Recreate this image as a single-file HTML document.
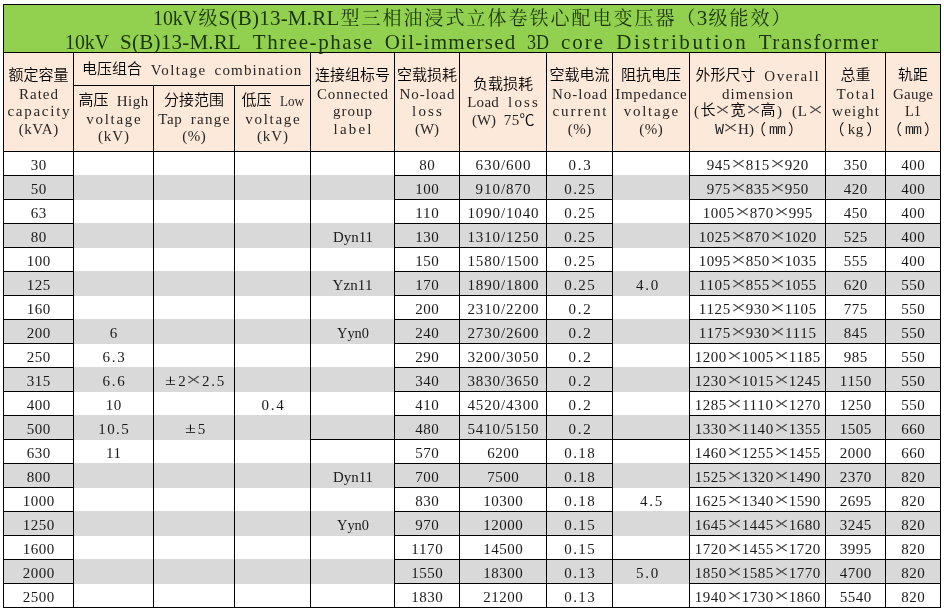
<!DOCTYPE html>
<html lang="zh-CN"><head><meta charset="utf-8"><title>10kV S(B)13-M.RL Three-phase Oil-immersed 3D core Distribution Transformer</title><style>
html,body{margin:0;padding:0;background:#fff}
#pg{position:relative;width:944px;height:612px;overflow:hidden;background:#fff;will-change:transform;
 font-family:"Liberation Serif","Noto Sans CJK SC",serif;color:#000}
.f,.b,.t{position:absolute}
.b{background:#000}
.t{display:flex;align-items:center;justify-content:center;text-align:center;white-space:nowrap}
.in{position:relative}
.td .in{top:2px}
.th .in{top:1px}
.tt .in{top:2px}
.ln{font-size:15px;height:17.5px;line-height:17.5px}
.c{font-family:"Liberation Sans","Noto Sans CJK SC",sans-serif;font-weight:350;line-height:0}
.w{display:inline-block;box-sizing:border-box;text-align:left}
.mo{font-family:"Liberation Mono",monospace;letter-spacing:-1px}
.tt .mo{letter-spacing:-1.6px}
.q{display:inline-block;transform-origin:0 50%}
.sp{display:inline-block;width:8px}
.x,.pm,.dc{display:inline-block;width:15px;line-height:0;text-align:center}
.x{font-size:23px;position:relative;top:1px;color:#444;transform:scale(1.2,.85)}
.pm{font-size:19px;transform:scale(1.05,.82)}
.dc{font-family:"Liberation Sans","Noto Sans CJK SC",sans-serif;font-weight:350}
.tt .ln{font-size:21px;height:23.5px;line-height:23.5px}
.tt .sp{width:11px}
.tt .c{font-family:"Liberation Serif","Noto Serif CJK SC",serif;font-weight:400;font-size:19px;letter-spacing:2px;position:relative;left:1px;top:0px}
.tt .ln:first-child{position:relative;left:.5px}
.tt{color:#1c3409}
.th .w{color:#262626}
.td .w{color:#1a1a1a}
.th .c{position:relative;top:-1px}
.th .fp{top:1px}
.th .fl{left:-3px}
.th .fr{left:3px}
</style></head><body><div id="pg">
<div class="f" style="left:3px;top:4px;width:938px;height:49px;background:#92d050"></div>
<div class="f" style="left:3px;top:52px;width:938px;height:100px;background:#fde9d9"></div>
<div class="f" style="left:3px;top:175px;width:938px;height:25px;background:#d9d9d9"></div>
<div class="f" style="left:3px;top:223px;width:938px;height:25px;background:#d9d9d9"></div>
<div class="f" style="left:3px;top:271px;width:938px;height:25px;background:#d9d9d9"></div>
<div class="f" style="left:3px;top:319px;width:938px;height:25px;background:#d9d9d9"></div>
<div class="f" style="left:3px;top:367px;width:938px;height:25px;background:#d9d9d9"></div>
<div class="f" style="left:3px;top:415px;width:938px;height:25px;background:#d9d9d9"></div>
<div class="f" style="left:3px;top:463px;width:938px;height:25px;background:#d9d9d9"></div>
<div class="f" style="left:3px;top:511px;width:938px;height:25px;background:#d9d9d9"></div>
<div class="f" style="left:3px;top:559px;width:938px;height:25px;background:#d9d9d9"></div>
<div class="b" style="left:3px;top:4px;width:938px;height:1px"></div>
<div class="b" style="left:3px;top:52px;width:938px;height:1px"></div>
<div class="b" style="left:3px;top:151px;width:938px;height:1px"></div>
<div class="b" style="left:3px;top:607px;width:938px;height:1px"></div>
<div class="b" style="left:3px;top:4px;width:1px;height:604px"></div>
<div class="b" style="left:940px;top:4px;width:1px;height:604px"></div>
<div class="b" style="left:73px;top:52px;width:1px;height:556px"></div>
<div class="b" style="left:153px;top:85px;width:1px;height:523px"></div>
<div class="b" style="left:234px;top:85px;width:1px;height:523px"></div>
<div class="b" style="left:310px;top:52px;width:1px;height:556px"></div>
<div class="b" style="left:394px;top:52px;width:1px;height:556px"></div>
<div class="b" style="left:459px;top:52px;width:1px;height:556px"></div>
<div class="b" style="left:546px;top:52px;width:1px;height:556px"></div>
<div class="b" style="left:612px;top:52px;width:1px;height:556px"></div>
<div class="b" style="left:689px;top:52px;width:1px;height:556px"></div>
<div class="b" style="left:825px;top:52px;width:1px;height:556px"></div>
<div class="b" style="left:885px;top:52px;width:1px;height:556px"></div>
<div class="b" style="left:73px;top:85px;width:238px;height:1px"></div>
<div class="b" style="left:3px;top:175px;width:71px;height:1px"></div>
<div class="b" style="left:394px;top:175px;width:66px;height:1px"></div>
<div class="b" style="left:459px;top:175px;width:88px;height:1px"></div>
<div class="b" style="left:546px;top:175px;width:67px;height:1px"></div>
<div class="b" style="left:689px;top:175px;width:137px;height:1px"></div>
<div class="b" style="left:825px;top:175px;width:61px;height:1px"></div>
<div class="b" style="left:885px;top:175px;width:56px;height:1px"></div>
<div class="b" style="left:3px;top:199px;width:71px;height:1px"></div>
<div class="b" style="left:394px;top:199px;width:66px;height:1px"></div>
<div class="b" style="left:459px;top:199px;width:88px;height:1px"></div>
<div class="b" style="left:546px;top:199px;width:67px;height:1px"></div>
<div class="b" style="left:689px;top:199px;width:137px;height:1px"></div>
<div class="b" style="left:825px;top:199px;width:61px;height:1px"></div>
<div class="b" style="left:885px;top:199px;width:56px;height:1px"></div>
<div class="b" style="left:3px;top:223px;width:71px;height:1px"></div>
<div class="b" style="left:394px;top:223px;width:66px;height:1px"></div>
<div class="b" style="left:459px;top:223px;width:88px;height:1px"></div>
<div class="b" style="left:546px;top:223px;width:67px;height:1px"></div>
<div class="b" style="left:689px;top:223px;width:137px;height:1px"></div>
<div class="b" style="left:825px;top:223px;width:61px;height:1px"></div>
<div class="b" style="left:885px;top:223px;width:56px;height:1px"></div>
<div class="b" style="left:3px;top:247px;width:71px;height:1px"></div>
<div class="b" style="left:394px;top:247px;width:66px;height:1px"></div>
<div class="b" style="left:459px;top:247px;width:88px;height:1px"></div>
<div class="b" style="left:546px;top:247px;width:67px;height:1px"></div>
<div class="b" style="left:689px;top:247px;width:137px;height:1px"></div>
<div class="b" style="left:825px;top:247px;width:61px;height:1px"></div>
<div class="b" style="left:885px;top:247px;width:56px;height:1px"></div>
<div class="b" style="left:3px;top:271px;width:71px;height:1px"></div>
<div class="b" style="left:394px;top:271px;width:66px;height:1px"></div>
<div class="b" style="left:459px;top:271px;width:88px;height:1px"></div>
<div class="b" style="left:546px;top:271px;width:67px;height:1px"></div>
<div class="b" style="left:689px;top:271px;width:137px;height:1px"></div>
<div class="b" style="left:825px;top:271px;width:61px;height:1px"></div>
<div class="b" style="left:885px;top:271px;width:56px;height:1px"></div>
<div class="b" style="left:3px;top:295px;width:71px;height:1px"></div>
<div class="b" style="left:394px;top:295px;width:66px;height:1px"></div>
<div class="b" style="left:459px;top:295px;width:88px;height:1px"></div>
<div class="b" style="left:546px;top:295px;width:67px;height:1px"></div>
<div class="b" style="left:689px;top:295px;width:137px;height:1px"></div>
<div class="b" style="left:825px;top:295px;width:61px;height:1px"></div>
<div class="b" style="left:885px;top:295px;width:56px;height:1px"></div>
<div class="b" style="left:3px;top:319px;width:71px;height:1px"></div>
<div class="b" style="left:394px;top:319px;width:66px;height:1px"></div>
<div class="b" style="left:459px;top:319px;width:88px;height:1px"></div>
<div class="b" style="left:546px;top:319px;width:67px;height:1px"></div>
<div class="b" style="left:689px;top:319px;width:137px;height:1px"></div>
<div class="b" style="left:825px;top:319px;width:61px;height:1px"></div>
<div class="b" style="left:885px;top:319px;width:56px;height:1px"></div>
<div class="b" style="left:3px;top:343px;width:71px;height:1px"></div>
<div class="b" style="left:394px;top:343px;width:66px;height:1px"></div>
<div class="b" style="left:459px;top:343px;width:88px;height:1px"></div>
<div class="b" style="left:546px;top:343px;width:67px;height:1px"></div>
<div class="b" style="left:689px;top:343px;width:137px;height:1px"></div>
<div class="b" style="left:825px;top:343px;width:61px;height:1px"></div>
<div class="b" style="left:885px;top:343px;width:56px;height:1px"></div>
<div class="b" style="left:3px;top:367px;width:71px;height:1px"></div>
<div class="b" style="left:394px;top:367px;width:66px;height:1px"></div>
<div class="b" style="left:459px;top:367px;width:88px;height:1px"></div>
<div class="b" style="left:546px;top:367px;width:67px;height:1px"></div>
<div class="b" style="left:689px;top:367px;width:137px;height:1px"></div>
<div class="b" style="left:825px;top:367px;width:61px;height:1px"></div>
<div class="b" style="left:885px;top:367px;width:56px;height:1px"></div>
<div class="b" style="left:3px;top:391px;width:71px;height:1px"></div>
<div class="b" style="left:394px;top:391px;width:66px;height:1px"></div>
<div class="b" style="left:459px;top:391px;width:88px;height:1px"></div>
<div class="b" style="left:546px;top:391px;width:67px;height:1px"></div>
<div class="b" style="left:689px;top:391px;width:137px;height:1px"></div>
<div class="b" style="left:825px;top:391px;width:61px;height:1px"></div>
<div class="b" style="left:885px;top:391px;width:56px;height:1px"></div>
<div class="b" style="left:3px;top:415px;width:71px;height:1px"></div>
<div class="b" style="left:394px;top:415px;width:66px;height:1px"></div>
<div class="b" style="left:459px;top:415px;width:88px;height:1px"></div>
<div class="b" style="left:546px;top:415px;width:67px;height:1px"></div>
<div class="b" style="left:689px;top:415px;width:137px;height:1px"></div>
<div class="b" style="left:825px;top:415px;width:61px;height:1px"></div>
<div class="b" style="left:885px;top:415px;width:56px;height:1px"></div>
<div class="b" style="left:3px;top:439px;width:71px;height:1px"></div>
<div class="b" style="left:394px;top:439px;width:66px;height:1px"></div>
<div class="b" style="left:459px;top:439px;width:88px;height:1px"></div>
<div class="b" style="left:546px;top:439px;width:67px;height:1px"></div>
<div class="b" style="left:689px;top:439px;width:137px;height:1px"></div>
<div class="b" style="left:825px;top:439px;width:61px;height:1px"></div>
<div class="b" style="left:885px;top:439px;width:56px;height:1px"></div>
<div class="b" style="left:3px;top:463px;width:71px;height:1px"></div>
<div class="b" style="left:394px;top:463px;width:66px;height:1px"></div>
<div class="b" style="left:459px;top:463px;width:88px;height:1px"></div>
<div class="b" style="left:546px;top:463px;width:67px;height:1px"></div>
<div class="b" style="left:689px;top:463px;width:137px;height:1px"></div>
<div class="b" style="left:825px;top:463px;width:61px;height:1px"></div>
<div class="b" style="left:885px;top:463px;width:56px;height:1px"></div>
<div class="b" style="left:3px;top:487px;width:71px;height:1px"></div>
<div class="b" style="left:394px;top:487px;width:66px;height:1px"></div>
<div class="b" style="left:459px;top:487px;width:88px;height:1px"></div>
<div class="b" style="left:546px;top:487px;width:67px;height:1px"></div>
<div class="b" style="left:689px;top:487px;width:137px;height:1px"></div>
<div class="b" style="left:825px;top:487px;width:61px;height:1px"></div>
<div class="b" style="left:885px;top:487px;width:56px;height:1px"></div>
<div class="b" style="left:3px;top:511px;width:71px;height:1px"></div>
<div class="b" style="left:394px;top:511px;width:66px;height:1px"></div>
<div class="b" style="left:459px;top:511px;width:88px;height:1px"></div>
<div class="b" style="left:546px;top:511px;width:67px;height:1px"></div>
<div class="b" style="left:689px;top:511px;width:137px;height:1px"></div>
<div class="b" style="left:825px;top:511px;width:61px;height:1px"></div>
<div class="b" style="left:885px;top:511px;width:56px;height:1px"></div>
<div class="b" style="left:3px;top:535px;width:71px;height:1px"></div>
<div class="b" style="left:394px;top:535px;width:66px;height:1px"></div>
<div class="b" style="left:459px;top:535px;width:88px;height:1px"></div>
<div class="b" style="left:546px;top:535px;width:67px;height:1px"></div>
<div class="b" style="left:689px;top:535px;width:137px;height:1px"></div>
<div class="b" style="left:825px;top:535px;width:61px;height:1px"></div>
<div class="b" style="left:885px;top:535px;width:56px;height:1px"></div>
<div class="b" style="left:3px;top:559px;width:71px;height:1px"></div>
<div class="b" style="left:394px;top:559px;width:66px;height:1px"></div>
<div class="b" style="left:459px;top:559px;width:88px;height:1px"></div>
<div class="b" style="left:546px;top:559px;width:67px;height:1px"></div>
<div class="b" style="left:689px;top:559px;width:137px;height:1px"></div>
<div class="b" style="left:825px;top:559px;width:61px;height:1px"></div>
<div class="b" style="left:885px;top:559px;width:56px;height:1px"></div>
<div class="b" style="left:3px;top:583px;width:71px;height:1px"></div>
<div class="b" style="left:394px;top:583px;width:66px;height:1px"></div>
<div class="b" style="left:459px;top:583px;width:88px;height:1px"></div>
<div class="b" style="left:546px;top:583px;width:67px;height:1px"></div>
<div class="b" style="left:689px;top:583px;width:137px;height:1px"></div>
<div class="b" style="left:825px;top:583px;width:61px;height:1px"></div>
<div class="b" style="left:885px;top:583px;width:56px;height:1px"></div>
<div class="b" style="left:310px;top:439px;width:85px;height:1px"></div>
<div class="b" style="left:612px;top:439px;width:78px;height:1px"></div>
<div class="b" style="left:612px;top:559px;width:78px;height:1px"></div>
<div class="t tt" style="left:4px;top:5px;width:936px;height:47px"><div class="in"><div class="ln"><span class="w" style="width:44px"><span class="q" style="transform:scaleX(0.943)">10kV</span></span><span class="c">级</span><span class="w" style="width:121px;letter-spacing:0.23px;padding-left:0.12px">S(B)13-M.RL</span><span class="c">型三相油浸式立体卷铁心配电变压器</span><span class="c fp fl">（</span><span class="w" style="width:11px;letter-spacing:0.5px;padding-left:0.25px">3</span><span class="c">级能效</span><span class="c fp fr">）</span></div><div class="ln"><span class="w" style="width:44px"><span class="q" style="transform:scaleX(0.943)">10kV</span></span><span class="sp"> </span><span class="w" style="width:121px;letter-spacing:0.23px;padding-left:0.12px">S(B)13-M.RL</span><span class="sp"> </span><span class="w" style="width:121px;letter-spacing:1.57px;padding-left:0.78px">Three-phase</span><span class="sp"> </span><span class="w" style="width:132px;letter-spacing:1.28px;padding-left:0.64px">Oil-immersed</span><span class="sp"> </span><span class="w" style="width:22px"><span class="q" style="transform:scaleX(0.857)">3D</span></span><span class="sp"> </span><span class="w" style="width:44px;letter-spacing:1.96px;padding-left:0.98px">core</span><span class="sp"> </span><span class="w" style="width:132px;letter-spacing:2.54px;padding-left:1.27px">Distribution</span><span class="sp"> </span><span class="w" style="width:121px;letter-spacing:1.53px;padding-left:0.76px">Transformer</span></div></div></div>
<div class="t th" style="left:4px;top:53px;width:69px;height:98px"><div class="in"><div class="ln"><span class="c">额定容量</span></div><div class="ln"><span class="w" style="width:40px;letter-spacing:1px;padding-left:0.5px">Rated</span></div><div class="ln"><span class="w" style="width:64px;letter-spacing:1.75px;padding-left:0.88px">capacity</span></div><div class="ln"><span class="w" style="width:40px;letter-spacing:0.55px;padding-left:0.28px">(kVA)</span></div></div></div>
<div class="t th" style="left:74px;top:54px;width:236px;height:32px"><div class="in"><div class="ln"><span class="c">电压组合</span><span class="sp"> </span><span class="w" style="width:56px;letter-spacing:1.49px;padding-left:0.75px">Voltage</span><span class="sp"> </span><span class="w" style="width:88px;letter-spacing:1.18px;padding-left:0.59px">combination</span></div></div></div>
<div class="t th" style="left:74px;top:86px;width:79px;height:65px"><div class="in"><div class="ln"><span class="c">高压</span><span class="sp"> </span><span class="w" style="width:32px;letter-spacing:0.5px;padding-left:0.25px">High</span></div><div class="ln"><span class="w" style="width:56px;letter-spacing:1.69px;padding-left:0.85px">voltage</span></div><div class="ln"><span class="w" style="width:32px;letter-spacing:0.92px;padding-left:0.46px">(kV)</span></div></div></div>
<div class="t th" style="left:154px;top:86px;width:80px;height:65px"><div class="in"><div class="ln"><span class="c">分接范围</span></div><div class="ln"><span class="w" style="width:24px;letter-spacing:0.57px;padding-left:0.29px">Tap</span><span class="sp"> </span><span class="w" style="width:40px;letter-spacing:1.34px;padding-left:0.67px">range</span></div><div class="ln"><span class="w" style="width:24px;letter-spacing:0.5px;padding-left:0.25px">(%)</span></div></div></div>
<div class="t th" style="left:235px;top:86px;width:75px;height:65px"><div class="in"><div class="ln"><span class="c">低压</span><span class="sp"> </span><span class="w" style="width:24px"><span class="q" style="transform:scaleX(0.873)">Low</span></span></div><div class="ln"><span class="w" style="width:56px;letter-spacing:1.69px;padding-left:0.85px">voltage</span></div><div class="ln"><span class="w" style="width:32px;letter-spacing:0.92px;padding-left:0.46px">(kV)</span></div></div></div>
<div class="t th" style="left:311px;top:53px;width:83px;height:98px"><div class="in"><div class="ln"><span class="c">连接组标号</span></div><div class="ln"><span class="w" style="width:72px;letter-spacing:0.87px;padding-left:0.44px">Connected</span></div><div class="ln"><span class="w" style="width:40px;letter-spacing:1px;padding-left:0.5px">group</span></div><div class="ln"><span class="w" style="width:40px;letter-spacing:2.17px;padding-left:1.08px">label</span></div></div></div>
<div class="t th" style="left:395px;top:53px;width:64px;height:98px"><div class="in"><div class="ln"><span class="c">空载损耗</span></div><div class="ln"><span class="w" style="width:56px;letter-spacing:0.98px;padding-left:0.49px">No-load</span></div><div class="ln"><span class="w" style="width:32px;letter-spacing:2.16px;padding-left:1.08px">loss</span></div><div class="ln"><span class="w" style="width:24px"><span class="q" style="transform:scaleX(0.994)">(W)</span></span></div></div></div>
<div class="t th" style="left:460px;top:53px;width:86px;height:98px"><div class="in"><div class="ln"><span class="c">负载损耗</span></div><div class="ln"><span class="w" style="width:32px;letter-spacing:0.29px;padding-left:0.15px">Load</span><span class="sp"> </span><span class="w" style="width:32px;letter-spacing:2.16px;padding-left:1.08px">loss</span></div><div class="ln"><span class="w" style="width:24px"><span class="q" style="transform:scaleX(0.994)">(W)</span></span><span class="sp"> </span><span class="w" style="width:16px;letter-spacing:0.5px;padding-left:0.25px">75</span><span class="dc">℃</span></div></div></div>
<div class="t th" style="left:547px;top:53px;width:65px;height:98px"><div class="in"><div class="ln"><span class="c">空载电流</span></div><div class="ln"><span class="w" style="width:56px;letter-spacing:0.98px;padding-left:0.49px">No-load</span></div><div class="ln"><span class="w" style="width:56px;letter-spacing:1.93px;padding-left:0.97px">current</span></div><div class="ln"><span class="w" style="width:24px;letter-spacing:0.5px;padding-left:0.25px">(%)</span></div></div></div>
<div class="t th" style="left:613px;top:53px;width:76px;height:98px"><div class="in"><div class="ln"><span class="c">阻抗电压</span></div><div class="ln"><span class="w" style="width:72px;letter-spacing:0.69px;padding-left:0.34px">Impedance</span></div><div class="ln"><span class="w" style="width:56px;letter-spacing:1.69px;padding-left:0.85px">voltage</span></div><div class="ln"><span class="w" style="width:24px;letter-spacing:0.5px;padding-left:0.25px">(%)</span></div></div></div>
<div class="t th" style="left:690px;top:53px;width:135px;height:98px"><div class="in"><div class="ln"><span class="c">外形尺寸</span><span class="sp"> </span><span class="w" style="width:56px;letter-spacing:1.57px;padding-left:0.79px">Overall</span></div><div class="ln"><span class="w" style="width:72px;letter-spacing:1.06px;padding-left:0.53px">dimension</span></div><div class="ln"><span class="w" style="width:8px;letter-spacing:3px;padding-left:1.5px">(</span><span class="c">长</span><span class="x">×</span><span class="c">宽</span><span class="x">×</span><span class="c">高</span><span class="w" style="width:8px;letter-spacing:3px;padding-left:1.5px">)</span><span class="sp"> </span><span class="w" style="width:16px;letter-spacing:0.91px;padding-left:0.46px">(L</span><span class="x">×</span></div><div class="ln"><span class="w mo" style="width:8px">W</span><span class="x">×</span><span class="w" style="width:16px;letter-spacing:0.09px;padding-left:0.04px">H)</span><span class="c fp fl">（</span><span class="w mo" style="width:16px">mm</span><span class="c fp fr">）</span></div></div></div>
<div class="t th" style="left:826px;top:53px;width:59px;height:98px"><div class="in"><div class="ln"><span class="c">总重</span></div><div class="ln"><span class="w" style="width:40px;letter-spacing:1.88px;padding-left:0.94px">Total</span></div><div class="ln"><span class="w" style="width:48px;letter-spacing:1.2px;padding-left:0.6px">weight</span></div><div class="ln"><span class="c fp fl">（</span><span class="w" style="width:16px;letter-spacing:0.5px;padding-left:0.25px">kg</span><span class="c fp fr">）</span></div></div></div>
<div class="t th" style="left:886px;top:53px;width:54px;height:98px"><div class="in"><div class="ln"><span class="c">轨距</span></div><div class="ln"><span class="w" style="width:40px;letter-spacing:0.17px;padding-left:0.08px">Gauge</span></div><div class="ln"><span class="w" style="width:16px"><span class="q" style="transform:scaleX(0.960)">L1</span></span></div><div class="ln"><span class="c fp fl">（</span><span class="w mo" style="width:16px">mm</span><span class="c fp fr">）</span></div></div></div>
<div class="t td" style="left:4px;top:152px;width:69px;height:23px"><div class="in"><div class="ln"><span class="w" style="width:16px;letter-spacing:0.5px;padding-left:0.25px">30</span></div></div></div>
<div class="t td" style="left:395px;top:152px;width:64px;height:23px"><div class="in"><div class="ln"><span class="w" style="width:16px;letter-spacing:0.5px;padding-left:0.25px">80</span></div></div></div>
<div class="t td" style="left:460px;top:152px;width:86px;height:23px"><div class="in"><div class="ln"><span class="w" style="width:56px;letter-spacing:0.98px;padding-left:0.49px">630/600</span></div></div></div>
<div class="t td" style="left:547px;top:152px;width:65px;height:23px"><div class="in"><div class="ln"><span class="w" style="width:24px;letter-spacing:1.75px;padding-left:0.88px">0.3</span></div></div></div>
<div class="t td" style="left:690px;top:152px;width:135px;height:23px"><div class="in"><div class="ln"><span class="w" style="width:24px;letter-spacing:0.5px;padding-left:0.25px">945</span><span class="x">×</span><span class="w" style="width:24px;letter-spacing:0.5px;padding-left:0.25px">815</span><span class="x">×</span><span class="w" style="width:24px;letter-spacing:0.5px;padding-left:0.25px">920</span></div></div></div>
<div class="t td" style="left:826px;top:152px;width:59px;height:23px"><div class="in"><div class="ln"><span class="w" style="width:24px;letter-spacing:0.5px;padding-left:0.25px">350</span></div></div></div>
<div class="t td" style="left:886px;top:152px;width:54px;height:23px"><div class="in"><div class="ln"><span class="w" style="width:24px;letter-spacing:0.5px;padding-left:0.25px">400</span></div></div></div>
<div class="t td" style="left:4px;top:176px;width:69px;height:23px"><div class="in"><div class="ln"><span class="w" style="width:16px;letter-spacing:0.5px;padding-left:0.25px">50</span></div></div></div>
<div class="t td" style="left:395px;top:176px;width:64px;height:23px"><div class="in"><div class="ln"><span class="w" style="width:24px;letter-spacing:0.5px;padding-left:0.25px">100</span></div></div></div>
<div class="t td" style="left:460px;top:176px;width:86px;height:23px"><div class="in"><div class="ln"><span class="w" style="width:56px;letter-spacing:0.98px;padding-left:0.49px">910/870</span></div></div></div>
<div class="t td" style="left:547px;top:176px;width:65px;height:23px"><div class="in"><div class="ln"><span class="w" style="width:32px;letter-spacing:1.44px;padding-left:0.72px">0.25</span></div></div></div>
<div class="t td" style="left:690px;top:176px;width:135px;height:23px"><div class="in"><div class="ln"><span class="w" style="width:24px;letter-spacing:0.5px;padding-left:0.25px">975</span><span class="x">×</span><span class="w" style="width:24px;letter-spacing:0.5px;padding-left:0.25px">835</span><span class="x">×</span><span class="w" style="width:24px;letter-spacing:0.5px;padding-left:0.25px">950</span></div></div></div>
<div class="t td" style="left:826px;top:176px;width:59px;height:23px"><div class="in"><div class="ln"><span class="w" style="width:24px;letter-spacing:0.5px;padding-left:0.25px">420</span></div></div></div>
<div class="t td" style="left:886px;top:176px;width:54px;height:23px"><div class="in"><div class="ln"><span class="w" style="width:24px;letter-spacing:0.5px;padding-left:0.25px">400</span></div></div></div>
<div class="t td" style="left:4px;top:200px;width:69px;height:23px"><div class="in"><div class="ln"><span class="w" style="width:16px;letter-spacing:0.5px;padding-left:0.25px">63</span></div></div></div>
<div class="t td" style="left:395px;top:200px;width:64px;height:23px"><div class="in"><div class="ln"><span class="w" style="width:24px;letter-spacing:0.68px;padding-left:0.34px">110</span></div></div></div>
<div class="t td" style="left:460px;top:200px;width:86px;height:23px"><div class="in"><div class="ln"><span class="w" style="width:72px;letter-spacing:0.87px;padding-left:0.43px">1090/1040</span></div></div></div>
<div class="t td" style="left:547px;top:200px;width:65px;height:23px"><div class="in"><div class="ln"><span class="w" style="width:32px;letter-spacing:1.44px;padding-left:0.72px">0.25</span></div></div></div>
<div class="t td" style="left:690px;top:200px;width:135px;height:23px"><div class="in"><div class="ln"><span class="w" style="width:32px;letter-spacing:0.5px;padding-left:0.25px">1005</span><span class="x">×</span><span class="w" style="width:24px;letter-spacing:0.5px;padding-left:0.25px">870</span><span class="x">×</span><span class="w" style="width:24px;letter-spacing:0.5px;padding-left:0.25px">995</span></div></div></div>
<div class="t td" style="left:826px;top:200px;width:59px;height:23px"><div class="in"><div class="ln"><span class="w" style="width:24px;letter-spacing:0.5px;padding-left:0.25px">450</span></div></div></div>
<div class="t td" style="left:886px;top:200px;width:54px;height:23px"><div class="in"><div class="ln"><span class="w" style="width:24px;letter-spacing:0.5px;padding-left:0.25px">400</span></div></div></div>
<div class="t td" style="left:4px;top:224px;width:69px;height:23px"><div class="in"><div class="ln"><span class="w" style="width:16px;letter-spacing:0.5px;padding-left:0.25px">80</span></div></div></div>
<div class="t td" style="left:311px;top:224px;width:83px;height:23px"><div class="in"><div class="ln"><span class="w" style="width:40px"><span class="q" style="transform:scaleX(0.993)">Dyn11</span></span></div></div></div>
<div class="t td" style="left:395px;top:224px;width:64px;height:23px"><div class="in"><div class="ln"><span class="w" style="width:24px;letter-spacing:0.5px;padding-left:0.25px">130</span></div></div></div>
<div class="t td" style="left:460px;top:224px;width:86px;height:23px"><div class="in"><div class="ln"><span class="w" style="width:72px;letter-spacing:0.87px;padding-left:0.43px">1310/1250</span></div></div></div>
<div class="t td" style="left:547px;top:224px;width:65px;height:23px"><div class="in"><div class="ln"><span class="w" style="width:32px;letter-spacing:1.44px;padding-left:0.72px">0.25</span></div></div></div>
<div class="t td" style="left:690px;top:224px;width:135px;height:23px"><div class="in"><div class="ln"><span class="w" style="width:32px;letter-spacing:0.5px;padding-left:0.25px">1025</span><span class="x">×</span><span class="w" style="width:24px;letter-spacing:0.5px;padding-left:0.25px">870</span><span class="x">×</span><span class="w" style="width:32px;letter-spacing:0.5px;padding-left:0.25px">1020</span></div></div></div>
<div class="t td" style="left:826px;top:224px;width:59px;height:23px"><div class="in"><div class="ln"><span class="w" style="width:24px;letter-spacing:0.5px;padding-left:0.25px">525</span></div></div></div>
<div class="t td" style="left:886px;top:224px;width:54px;height:23px"><div class="in"><div class="ln"><span class="w" style="width:24px;letter-spacing:0.5px;padding-left:0.25px">400</span></div></div></div>
<div class="t td" style="left:4px;top:248px;width:69px;height:23px"><div class="in"><div class="ln"><span class="w" style="width:24px;letter-spacing:0.5px;padding-left:0.25px">100</span></div></div></div>
<div class="t td" style="left:395px;top:248px;width:64px;height:23px"><div class="in"><div class="ln"><span class="w" style="width:24px;letter-spacing:0.5px;padding-left:0.25px">150</span></div></div></div>
<div class="t td" style="left:460px;top:248px;width:86px;height:23px"><div class="in"><div class="ln"><span class="w" style="width:72px;letter-spacing:0.87px;padding-left:0.43px">1580/1500</span></div></div></div>
<div class="t td" style="left:547px;top:248px;width:65px;height:23px"><div class="in"><div class="ln"><span class="w" style="width:32px;letter-spacing:1.44px;padding-left:0.72px">0.25</span></div></div></div>
<div class="t td" style="left:690px;top:248px;width:135px;height:23px"><div class="in"><div class="ln"><span class="w" style="width:32px;letter-spacing:0.5px;padding-left:0.25px">1095</span><span class="x">×</span><span class="w" style="width:24px;letter-spacing:0.5px;padding-left:0.25px">850</span><span class="x">×</span><span class="w" style="width:32px;letter-spacing:0.5px;padding-left:0.25px">1035</span></div></div></div>
<div class="t td" style="left:826px;top:248px;width:59px;height:23px"><div class="in"><div class="ln"><span class="w" style="width:24px;letter-spacing:0.5px;padding-left:0.25px">555</span></div></div></div>
<div class="t td" style="left:886px;top:248px;width:54px;height:23px"><div class="in"><div class="ln"><span class="w" style="width:24px;letter-spacing:0.5px;padding-left:0.25px">400</span></div></div></div>
<div class="t td" style="left:4px;top:272px;width:69px;height:23px"><div class="in"><div class="ln"><span class="w" style="width:24px;letter-spacing:0.5px;padding-left:0.25px">125</span></div></div></div>
<div class="t td" style="left:311px;top:272px;width:83px;height:23px"><div class="in"><div class="ln"><span class="w" style="width:40px;letter-spacing:0.11px;padding-left:0.06px">Yzn11</span></div></div></div>
<div class="t td" style="left:395px;top:272px;width:64px;height:23px"><div class="in"><div class="ln"><span class="w" style="width:24px;letter-spacing:0.5px;padding-left:0.25px">170</span></div></div></div>
<div class="t td" style="left:460px;top:272px;width:86px;height:23px"><div class="in"><div class="ln"><span class="w" style="width:72px;letter-spacing:0.87px;padding-left:0.43px">1890/1800</span></div></div></div>
<div class="t td" style="left:547px;top:272px;width:65px;height:23px"><div class="in"><div class="ln"><span class="w" style="width:32px;letter-spacing:1.44px;padding-left:0.72px">0.25</span></div></div></div>
<div class="t td" style="left:613px;top:272px;width:76px;height:23px"><div class="in"><div class="ln"><span class="w" style="width:24px;letter-spacing:1.75px;padding-left:0.88px">4.0</span><span class="sp"> </span></div></div></div>
<div class="t td" style="left:690px;top:272px;width:135px;height:23px"><div class="in"><div class="ln"><span class="w" style="width:32px;letter-spacing:0.64px;padding-left:0.32px">1105</span><span class="x">×</span><span class="w" style="width:24px;letter-spacing:0.5px;padding-left:0.25px">855</span><span class="x">×</span><span class="w" style="width:32px;letter-spacing:0.5px;padding-left:0.25px">1055</span></div></div></div>
<div class="t td" style="left:826px;top:272px;width:59px;height:23px"><div class="in"><div class="ln"><span class="w" style="width:24px;letter-spacing:0.5px;padding-left:0.25px">620</span></div></div></div>
<div class="t td" style="left:886px;top:272px;width:54px;height:23px"><div class="in"><div class="ln"><span class="w" style="width:24px;letter-spacing:0.5px;padding-left:0.25px">550</span></div></div></div>
<div class="t td" style="left:4px;top:296px;width:69px;height:23px"><div class="in"><div class="ln"><span class="w" style="width:24px;letter-spacing:0.5px;padding-left:0.25px">160</span></div></div></div>
<div class="t td" style="left:395px;top:296px;width:64px;height:23px"><div class="in"><div class="ln"><span class="w" style="width:24px;letter-spacing:0.5px;padding-left:0.25px">200</span></div></div></div>
<div class="t td" style="left:460px;top:296px;width:86px;height:23px"><div class="in"><div class="ln"><span class="w" style="width:72px;letter-spacing:0.87px;padding-left:0.43px">2310/2200</span></div></div></div>
<div class="t td" style="left:547px;top:296px;width:65px;height:23px"><div class="in"><div class="ln"><span class="w" style="width:24px;letter-spacing:1.75px;padding-left:0.88px">0.2</span></div></div></div>
<div class="t td" style="left:690px;top:296px;width:135px;height:23px"><div class="in"><div class="ln"><span class="w" style="width:32px;letter-spacing:0.64px;padding-left:0.32px">1125</span><span class="x">×</span><span class="w" style="width:24px;letter-spacing:0.5px;padding-left:0.25px">930</span><span class="x">×</span><span class="w" style="width:32px;letter-spacing:0.64px;padding-left:0.32px">1105</span></div></div></div>
<div class="t td" style="left:826px;top:296px;width:59px;height:23px"><div class="in"><div class="ln"><span class="w" style="width:24px;letter-spacing:0.5px;padding-left:0.25px">775</span></div></div></div>
<div class="t td" style="left:886px;top:296px;width:54px;height:23px"><div class="in"><div class="ln"><span class="w" style="width:24px;letter-spacing:0.5px;padding-left:0.25px">550</span></div></div></div>
<div class="t td" style="left:4px;top:320px;width:69px;height:23px"><div class="in"><div class="ln"><span class="w" style="width:24px;letter-spacing:0.5px;padding-left:0.25px">200</span></div></div></div>
<div class="t td" style="left:74px;top:320px;width:79px;height:23px"><div class="in"><div class="ln"><span class="w" style="width:8px;letter-spacing:0.5px;padding-left:0.25px">6</span></div></div></div>
<div class="t td" style="left:311px;top:320px;width:83px;height:23px"><div class="in"><div class="ln"><span class="w" style="width:32px"><span class="q" style="transform:scaleX(0.960)">Yyn0</span></span></div></div></div>
<div class="t td" style="left:395px;top:320px;width:64px;height:23px"><div class="in"><div class="ln"><span class="w" style="width:24px;letter-spacing:0.5px;padding-left:0.25px">240</span></div></div></div>
<div class="t td" style="left:460px;top:320px;width:86px;height:23px"><div class="in"><div class="ln"><span class="w" style="width:72px;letter-spacing:0.87px;padding-left:0.43px">2730/2600</span></div></div></div>
<div class="t td" style="left:547px;top:320px;width:65px;height:23px"><div class="in"><div class="ln"><span class="w" style="width:24px;letter-spacing:1.75px;padding-left:0.88px">0.2</span></div></div></div>
<div class="t td" style="left:690px;top:320px;width:135px;height:23px"><div class="in"><div class="ln"><span class="w" style="width:32px;letter-spacing:0.64px;padding-left:0.32px">1175</span><span class="x">×</span><span class="w" style="width:24px;letter-spacing:0.5px;padding-left:0.25px">930</span><span class="x">×</span><span class="w" style="width:32px;letter-spacing:0.78px;padding-left:0.39px">1115</span></div></div></div>
<div class="t td" style="left:826px;top:320px;width:59px;height:23px"><div class="in"><div class="ln"><span class="w" style="width:24px;letter-spacing:0.5px;padding-left:0.25px">845</span></div></div></div>
<div class="t td" style="left:886px;top:320px;width:54px;height:23px"><div class="in"><div class="ln"><span class="w" style="width:24px;letter-spacing:0.5px;padding-left:0.25px">550</span></div></div></div>
<div class="t td" style="left:4px;top:344px;width:69px;height:23px"><div class="in"><div class="ln"><span class="w" style="width:24px;letter-spacing:0.5px;padding-left:0.25px">250</span></div></div></div>
<div class="t td" style="left:74px;top:344px;width:79px;height:23px"><div class="in"><div class="ln"><span class="w" style="width:24px;letter-spacing:1.75px;padding-left:0.88px">6.3</span></div></div></div>
<div class="t td" style="left:395px;top:344px;width:64px;height:23px"><div class="in"><div class="ln"><span class="w" style="width:24px;letter-spacing:0.5px;padding-left:0.25px">290</span></div></div></div>
<div class="t td" style="left:460px;top:344px;width:86px;height:23px"><div class="in"><div class="ln"><span class="w" style="width:72px;letter-spacing:0.87px;padding-left:0.43px">3200/3050</span></div></div></div>
<div class="t td" style="left:547px;top:344px;width:65px;height:23px"><div class="in"><div class="ln"><span class="w" style="width:24px;letter-spacing:1.75px;padding-left:0.88px">0.2</span></div></div></div>
<div class="t td" style="left:690px;top:344px;width:135px;height:23px"><div class="in"><div class="ln"><span class="w" style="width:32px;letter-spacing:0.5px;padding-left:0.25px">1200</span><span class="x">×</span><span class="w" style="width:32px;letter-spacing:0.5px;padding-left:0.25px">1005</span><span class="x">×</span><span class="w" style="width:32px;letter-spacing:0.64px;padding-left:0.32px">1185</span></div></div></div>
<div class="t td" style="left:826px;top:344px;width:59px;height:23px"><div class="in"><div class="ln"><span class="w" style="width:24px;letter-spacing:0.5px;padding-left:0.25px">985</span></div></div></div>
<div class="t td" style="left:886px;top:344px;width:54px;height:23px"><div class="in"><div class="ln"><span class="w" style="width:24px;letter-spacing:0.5px;padding-left:0.25px">550</span></div></div></div>
<div class="t td" style="left:4px;top:368px;width:69px;height:23px"><div class="in"><div class="ln"><span class="w" style="width:24px;letter-spacing:0.5px;padding-left:0.25px">315</span></div></div></div>
<div class="t td" style="left:74px;top:368px;width:79px;height:23px"><div class="in"><div class="ln"><span class="w" style="width:24px;letter-spacing:1.75px;padding-left:0.88px">6.6</span></div></div></div>
<div class="t td" style="left:154px;top:368px;width:80px;height:23px"><div class="in"><div class="ln"><span class="pm">±</span><span class="w" style="width:8px;letter-spacing:0.5px;padding-left:0.25px">2</span><span class="x">×</span><span class="w" style="width:24px;letter-spacing:1.75px;padding-left:0.88px">2.5</span></div></div></div>
<div class="t td" style="left:395px;top:368px;width:64px;height:23px"><div class="in"><div class="ln"><span class="w" style="width:24px;letter-spacing:0.5px;padding-left:0.25px">340</span></div></div></div>
<div class="t td" style="left:460px;top:368px;width:86px;height:23px"><div class="in"><div class="ln"><span class="w" style="width:72px;letter-spacing:0.87px;padding-left:0.43px">3830/3650</span></div></div></div>
<div class="t td" style="left:547px;top:368px;width:65px;height:23px"><div class="in"><div class="ln"><span class="w" style="width:24px;letter-spacing:1.75px;padding-left:0.88px">0.2</span></div></div></div>
<div class="t td" style="left:690px;top:368px;width:135px;height:23px"><div class="in"><div class="ln"><span class="w" style="width:32px;letter-spacing:0.5px;padding-left:0.25px">1230</span><span class="x">×</span><span class="w" style="width:32px;letter-spacing:0.5px;padding-left:0.25px">1015</span><span class="x">×</span><span class="w" style="width:32px;letter-spacing:0.5px;padding-left:0.25px">1245</span></div></div></div>
<div class="t td" style="left:826px;top:368px;width:59px;height:23px"><div class="in"><div class="ln"><span class="w" style="width:32px;letter-spacing:0.64px;padding-left:0.32px">1150</span></div></div></div>
<div class="t td" style="left:886px;top:368px;width:54px;height:23px"><div class="in"><div class="ln"><span class="w" style="width:24px;letter-spacing:0.5px;padding-left:0.25px">550</span></div></div></div>
<div class="t td" style="left:4px;top:392px;width:69px;height:23px"><div class="in"><div class="ln"><span class="w" style="width:24px;letter-spacing:0.5px;padding-left:0.25px">400</span></div></div></div>
<div class="t td" style="left:74px;top:392px;width:79px;height:23px"><div class="in"><div class="ln"><span class="w" style="width:16px;letter-spacing:0.5px;padding-left:0.25px">10</span></div></div></div>
<div class="t td" style="left:235px;top:392px;width:75px;height:23px"><div class="in"><div class="ln"><span class="w" style="width:24px;letter-spacing:1.75px;padding-left:0.88px">0.4</span></div></div></div>
<div class="t td" style="left:395px;top:392px;width:64px;height:23px"><div class="in"><div class="ln"><span class="w" style="width:24px;letter-spacing:0.5px;padding-left:0.25px">410</span></div></div></div>
<div class="t td" style="left:460px;top:392px;width:86px;height:23px"><div class="in"><div class="ln"><span class="w" style="width:72px;letter-spacing:0.87px;padding-left:0.43px">4520/4300</span></div></div></div>
<div class="t td" style="left:547px;top:392px;width:65px;height:23px"><div class="in"><div class="ln"><span class="w" style="width:24px;letter-spacing:1.75px;padding-left:0.88px">0.2</span></div></div></div>
<div class="t td" style="left:690px;top:392px;width:135px;height:23px"><div class="in"><div class="ln"><span class="w" style="width:32px;letter-spacing:0.5px;padding-left:0.25px">1285</span><span class="x">×</span><span class="w" style="width:32px;letter-spacing:0.78px;padding-left:0.39px">1110</span><span class="x">×</span><span class="w" style="width:32px;letter-spacing:0.5px;padding-left:0.25px">1270</span></div></div></div>
<div class="t td" style="left:826px;top:392px;width:59px;height:23px"><div class="in"><div class="ln"><span class="w" style="width:32px;letter-spacing:0.5px;padding-left:0.25px">1250</span></div></div></div>
<div class="t td" style="left:886px;top:392px;width:54px;height:23px"><div class="in"><div class="ln"><span class="w" style="width:24px;letter-spacing:0.5px;padding-left:0.25px">550</span></div></div></div>
<div class="t td" style="left:4px;top:416px;width:69px;height:23px"><div class="in"><div class="ln"><span class="w" style="width:24px;letter-spacing:0.5px;padding-left:0.25px">500</span></div></div></div>
<div class="t td" style="left:74px;top:416px;width:79px;height:23px"><div class="in"><div class="ln"><span class="w" style="width:32px;letter-spacing:1.44px;padding-left:0.72px">10.5</span></div></div></div>
<div class="t td" style="left:154px;top:416px;width:80px;height:23px"><div class="in"><div class="ln"><span class="pm">±</span><span class="w" style="width:8px;letter-spacing:0.5px;padding-left:0.25px">5</span></div></div></div>
<div class="t td" style="left:395px;top:416px;width:64px;height:23px"><div class="in"><div class="ln"><span class="w" style="width:24px;letter-spacing:0.5px;padding-left:0.25px">480</span></div></div></div>
<div class="t td" style="left:460px;top:416px;width:86px;height:23px"><div class="in"><div class="ln"><span class="w" style="width:72px;letter-spacing:0.87px;padding-left:0.43px">5410/5150</span></div></div></div>
<div class="t td" style="left:547px;top:416px;width:65px;height:23px"><div class="in"><div class="ln"><span class="w" style="width:24px;letter-spacing:1.75px;padding-left:0.88px">0.2</span></div></div></div>
<div class="t td" style="left:690px;top:416px;width:135px;height:23px"><div class="in"><div class="ln"><span class="w" style="width:32px;letter-spacing:0.5px;padding-left:0.25px">1330</span><span class="x">×</span><span class="w" style="width:32px;letter-spacing:0.64px;padding-left:0.32px">1140</span><span class="x">×</span><span class="w" style="width:32px;letter-spacing:0.5px;padding-left:0.25px">1355</span></div></div></div>
<div class="t td" style="left:826px;top:416px;width:59px;height:23px"><div class="in"><div class="ln"><span class="w" style="width:32px;letter-spacing:0.5px;padding-left:0.25px">1505</span></div></div></div>
<div class="t td" style="left:886px;top:416px;width:54px;height:23px"><div class="in"><div class="ln"><span class="w" style="width:24px;letter-spacing:0.5px;padding-left:0.25px">660</span></div></div></div>
<div class="t td" style="left:4px;top:440px;width:69px;height:23px"><div class="in"><div class="ln"><span class="w" style="width:24px;letter-spacing:0.5px;padding-left:0.25px">630</span></div></div></div>
<div class="t td" style="left:74px;top:440px;width:79px;height:23px"><div class="in"><div class="ln"><span class="w" style="width:16px;letter-spacing:0.77px;padding-left:0.39px">11</span></div></div></div>
<div class="t td" style="left:395px;top:440px;width:64px;height:23px"><div class="in"><div class="ln"><span class="w" style="width:24px;letter-spacing:0.5px;padding-left:0.25px">570</span></div></div></div>
<div class="t td" style="left:460px;top:440px;width:86px;height:23px"><div class="in"><div class="ln"><span class="w" style="width:32px;letter-spacing:0.5px;padding-left:0.25px">6200</span></div></div></div>
<div class="t td" style="left:547px;top:440px;width:65px;height:23px"><div class="in"><div class="ln"><span class="w" style="width:32px;letter-spacing:1.44px;padding-left:0.72px">0.18</span></div></div></div>
<div class="t td" style="left:690px;top:440px;width:135px;height:23px"><div class="in"><div class="ln"><span class="w" style="width:32px;letter-spacing:0.5px;padding-left:0.25px">1460</span><span class="x">×</span><span class="w" style="width:32px;letter-spacing:0.5px;padding-left:0.25px">1255</span><span class="x">×</span><span class="w" style="width:32px;letter-spacing:0.5px;padding-left:0.25px">1455</span></div></div></div>
<div class="t td" style="left:826px;top:440px;width:59px;height:23px"><div class="in"><div class="ln"><span class="w" style="width:32px;letter-spacing:0.5px;padding-left:0.25px">2000</span></div></div></div>
<div class="t td" style="left:886px;top:440px;width:54px;height:23px"><div class="in"><div class="ln"><span class="w" style="width:24px;letter-spacing:0.5px;padding-left:0.25px">660</span></div></div></div>
<div class="t td" style="left:4px;top:464px;width:69px;height:23px"><div class="in"><div class="ln"><span class="w" style="width:24px;letter-spacing:0.5px;padding-left:0.25px">800</span></div></div></div>
<div class="t td" style="left:311px;top:464px;width:83px;height:23px"><div class="in"><div class="ln"><span class="w" style="width:40px"><span class="q" style="transform:scaleX(0.993)">Dyn11</span></span></div></div></div>
<div class="t td" style="left:395px;top:464px;width:64px;height:23px"><div class="in"><div class="ln"><span class="w" style="width:24px;letter-spacing:0.5px;padding-left:0.25px">700</span></div></div></div>
<div class="t td" style="left:460px;top:464px;width:86px;height:23px"><div class="in"><div class="ln"><span class="w" style="width:32px;letter-spacing:0.5px;padding-left:0.25px">7500</span></div></div></div>
<div class="t td" style="left:547px;top:464px;width:65px;height:23px"><div class="in"><div class="ln"><span class="w" style="width:32px;letter-spacing:1.44px;padding-left:0.72px">0.18</span></div></div></div>
<div class="t td" style="left:690px;top:464px;width:135px;height:23px"><div class="in"><div class="ln"><span class="w" style="width:32px;letter-spacing:0.5px;padding-left:0.25px">1525</span><span class="x">×</span><span class="w" style="width:32px;letter-spacing:0.5px;padding-left:0.25px">1320</span><span class="x">×</span><span class="w" style="width:32px;letter-spacing:0.5px;padding-left:0.25px">1490</span></div></div></div>
<div class="t td" style="left:826px;top:464px;width:59px;height:23px"><div class="in"><div class="ln"><span class="w" style="width:32px;letter-spacing:0.5px;padding-left:0.25px">2370</span></div></div></div>
<div class="t td" style="left:886px;top:464px;width:54px;height:23px"><div class="in"><div class="ln"><span class="w" style="width:24px;letter-spacing:0.5px;padding-left:0.25px">820</span></div></div></div>
<div class="t td" style="left:4px;top:488px;width:69px;height:23px"><div class="in"><div class="ln"><span class="w" style="width:32px;letter-spacing:0.5px;padding-left:0.25px">1000</span></div></div></div>
<div class="t td" style="left:395px;top:488px;width:64px;height:23px"><div class="in"><div class="ln"><span class="w" style="width:24px;letter-spacing:0.5px;padding-left:0.25px">830</span></div></div></div>
<div class="t td" style="left:460px;top:488px;width:86px;height:23px"><div class="in"><div class="ln"><span class="w" style="width:40px;letter-spacing:0.5px;padding-left:0.25px">10300</span></div></div></div>
<div class="t td" style="left:547px;top:488px;width:65px;height:23px"><div class="in"><div class="ln"><span class="w" style="width:32px;letter-spacing:1.44px;padding-left:0.72px">0.18</span></div></div></div>
<div class="t td" style="left:613px;top:488px;width:76px;height:23px"><div class="in"><div class="ln"><span class="w" style="width:24px;letter-spacing:1.75px;padding-left:0.88px">4.5</span></div></div></div>
<div class="t td" style="left:690px;top:488px;width:135px;height:23px"><div class="in"><div class="ln"><span class="w" style="width:32px;letter-spacing:0.5px;padding-left:0.25px">1625</span><span class="x">×</span><span class="w" style="width:32px;letter-spacing:0.5px;padding-left:0.25px">1340</span><span class="x">×</span><span class="w" style="width:32px;letter-spacing:0.5px;padding-left:0.25px">1590</span></div></div></div>
<div class="t td" style="left:826px;top:488px;width:59px;height:23px"><div class="in"><div class="ln"><span class="w" style="width:32px;letter-spacing:0.5px;padding-left:0.25px">2695</span></div></div></div>
<div class="t td" style="left:886px;top:488px;width:54px;height:23px"><div class="in"><div class="ln"><span class="w" style="width:24px;letter-spacing:0.5px;padding-left:0.25px">820</span></div></div></div>
<div class="t td" style="left:4px;top:512px;width:69px;height:23px"><div class="in"><div class="ln"><span class="w" style="width:32px;letter-spacing:0.5px;padding-left:0.25px">1250</span></div></div></div>
<div class="t td" style="left:311px;top:512px;width:83px;height:23px"><div class="in"><div class="ln"><span class="w" style="width:32px"><span class="q" style="transform:scaleX(0.960)">Yyn0</span></span></div></div></div>
<div class="t td" style="left:395px;top:512px;width:64px;height:23px"><div class="in"><div class="ln"><span class="w" style="width:24px;letter-spacing:0.5px;padding-left:0.25px">970</span></div></div></div>
<div class="t td" style="left:460px;top:512px;width:86px;height:23px"><div class="in"><div class="ln"><span class="w" style="width:40px;letter-spacing:0.5px;padding-left:0.25px">12000</span></div></div></div>
<div class="t td" style="left:547px;top:512px;width:65px;height:23px"><div class="in"><div class="ln"><span class="w" style="width:32px;letter-spacing:1.44px;padding-left:0.72px">0.15</span></div></div></div>
<div class="t td" style="left:690px;top:512px;width:135px;height:23px"><div class="in"><div class="ln"><span class="w" style="width:32px;letter-spacing:0.5px;padding-left:0.25px">1645</span><span class="x">×</span><span class="w" style="width:32px;letter-spacing:0.5px;padding-left:0.25px">1445</span><span class="x">×</span><span class="w" style="width:32px;letter-spacing:0.5px;padding-left:0.25px">1680</span></div></div></div>
<div class="t td" style="left:826px;top:512px;width:59px;height:23px"><div class="in"><div class="ln"><span class="w" style="width:32px;letter-spacing:0.5px;padding-left:0.25px">3245</span></div></div></div>
<div class="t td" style="left:886px;top:512px;width:54px;height:23px"><div class="in"><div class="ln"><span class="w" style="width:24px;letter-spacing:0.5px;padding-left:0.25px">820</span></div></div></div>
<div class="t td" style="left:4px;top:536px;width:69px;height:23px"><div class="in"><div class="ln"><span class="w" style="width:32px;letter-spacing:0.5px;padding-left:0.25px">1600</span></div></div></div>
<div class="t td" style="left:395px;top:536px;width:64px;height:23px"><div class="in"><div class="ln"><span class="w" style="width:32px;letter-spacing:0.64px;padding-left:0.32px">1170</span></div></div></div>
<div class="t td" style="left:460px;top:536px;width:86px;height:23px"><div class="in"><div class="ln"><span class="w" style="width:40px;letter-spacing:0.5px;padding-left:0.25px">14500</span></div></div></div>
<div class="t td" style="left:547px;top:536px;width:65px;height:23px"><div class="in"><div class="ln"><span class="w" style="width:32px;letter-spacing:1.44px;padding-left:0.72px">0.15</span></div></div></div>
<div class="t td" style="left:690px;top:536px;width:135px;height:23px"><div class="in"><div class="ln"><span class="w" style="width:32px;letter-spacing:0.5px;padding-left:0.25px">1720</span><span class="x">×</span><span class="w" style="width:32px;letter-spacing:0.5px;padding-left:0.25px">1455</span><span class="x">×</span><span class="w" style="width:32px;letter-spacing:0.5px;padding-left:0.25px">1720</span></div></div></div>
<div class="t td" style="left:826px;top:536px;width:59px;height:23px"><div class="in"><div class="ln"><span class="w" style="width:32px;letter-spacing:0.5px;padding-left:0.25px">3995</span></div></div></div>
<div class="t td" style="left:886px;top:536px;width:54px;height:23px"><div class="in"><div class="ln"><span class="w" style="width:24px;letter-spacing:0.5px;padding-left:0.25px">820</span></div></div></div>
<div class="t td" style="left:4px;top:560px;width:69px;height:23px"><div class="in"><div class="ln"><span class="w" style="width:32px;letter-spacing:0.5px;padding-left:0.25px">2000</span></div></div></div>
<div class="t td" style="left:395px;top:560px;width:64px;height:23px"><div class="in"><div class="ln"><span class="w" style="width:32px;letter-spacing:0.5px;padding-left:0.25px">1550</span></div></div></div>
<div class="t td" style="left:460px;top:560px;width:86px;height:23px"><div class="in"><div class="ln"><span class="w" style="width:40px;letter-spacing:0.5px;padding-left:0.25px">18300</span></div></div></div>
<div class="t td" style="left:547px;top:560px;width:65px;height:23px"><div class="in"><div class="ln"><span class="w" style="width:32px;letter-spacing:1.44px;padding-left:0.72px">0.13</span></div></div></div>
<div class="t td" style="left:613px;top:560px;width:76px;height:23px"><div class="in"><div class="ln"><span class="w" style="width:24px;letter-spacing:1.75px;padding-left:0.88px">5.0</span><span class="sp"> </span></div></div></div>
<div class="t td" style="left:690px;top:560px;width:135px;height:23px"><div class="in"><div class="ln"><span class="w" style="width:32px;letter-spacing:0.5px;padding-left:0.25px">1850</span><span class="x">×</span><span class="w" style="width:32px;letter-spacing:0.5px;padding-left:0.25px">1585</span><span class="x">×</span><span class="w" style="width:32px;letter-spacing:0.5px;padding-left:0.25px">1770</span></div></div></div>
<div class="t td" style="left:826px;top:560px;width:59px;height:23px"><div class="in"><div class="ln"><span class="w" style="width:32px;letter-spacing:0.5px;padding-left:0.25px">4700</span></div></div></div>
<div class="t td" style="left:886px;top:560px;width:54px;height:23px"><div class="in"><div class="ln"><span class="w" style="width:24px;letter-spacing:0.5px;padding-left:0.25px">820</span></div></div></div>
<div class="t td" style="left:4px;top:584px;width:69px;height:23px"><div class="in"><div class="ln"><span class="w" style="width:32px;letter-spacing:0.5px;padding-left:0.25px">2500</span></div></div></div>
<div class="t td" style="left:395px;top:584px;width:64px;height:23px"><div class="in"><div class="ln"><span class="w" style="width:32px;letter-spacing:0.5px;padding-left:0.25px">1830</span></div></div></div>
<div class="t td" style="left:460px;top:584px;width:86px;height:23px"><div class="in"><div class="ln"><span class="w" style="width:40px;letter-spacing:0.5px;padding-left:0.25px">21200</span></div></div></div>
<div class="t td" style="left:547px;top:584px;width:65px;height:23px"><div class="in"><div class="ln"><span class="w" style="width:32px;letter-spacing:1.44px;padding-left:0.72px">0.13</span></div></div></div>
<div class="t td" style="left:690px;top:584px;width:135px;height:23px"><div class="in"><div class="ln"><span class="w" style="width:32px;letter-spacing:0.5px;padding-left:0.25px">1940</span><span class="x">×</span><span class="w" style="width:32px;letter-spacing:0.5px;padding-left:0.25px">1730</span><span class="x">×</span><span class="w" style="width:32px;letter-spacing:0.5px;padding-left:0.25px">1860</span></div></div></div>
<div class="t td" style="left:826px;top:584px;width:59px;height:23px"><div class="in"><div class="ln"><span class="w" style="width:32px;letter-spacing:0.5px;padding-left:0.25px">5540</span></div></div></div>
<div class="t td" style="left:886px;top:584px;width:54px;height:23px"><div class="in"><div class="ln"><span class="w" style="width:24px;letter-spacing:0.5px;padding-left:0.25px">820</span></div></div></div>
</div></body></html>
